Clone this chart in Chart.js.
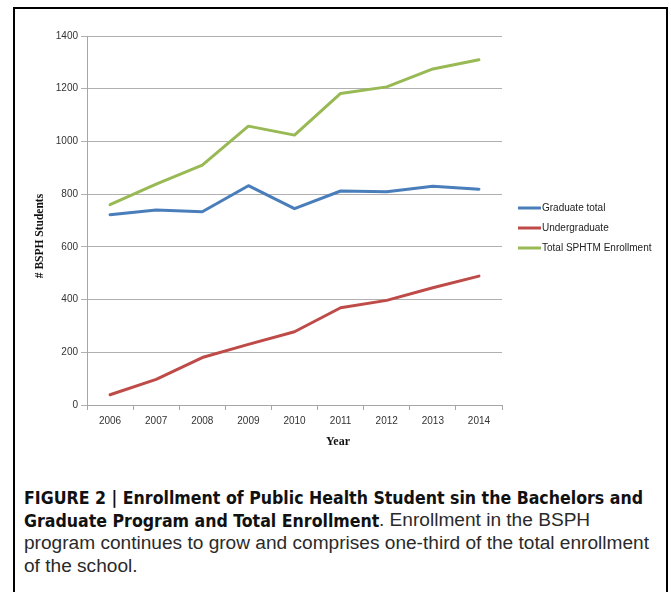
<!DOCTYPE html>
<html>
<head>
<meta charset="utf-8">
<script src="https://cdn.jsdelivr.net/npm/chart.js@4"></script>
<style>
  html,body{margin:0;padding:0;background:#fff;width:671px;height:592px;overflow:hidden;position:relative;}
  #frame{position:absolute;left:13px;top:7px;width:655px;height:620px;border:2px solid #000;box-sizing:border-box;}
  #c{position:absolute;left:0;top:0;}
  #cap{position:absolute;left:24px;top:486px;font-family:"Liberation Sans",Arial,sans-serif;font-size:18px;line-height:23px;color:#2a2a2a;}
  #cap .ln{display:block;white-space:nowrap;height:23px;}
  #cap .fit{display:inline-block;white-space:nowrap;overflow:visible;vertical-align:top;}
  #cap .in{display:inline-block;transform-origin:0 0;white-space:pre;}
  #cap .b{font-family:"DejaVu Sans Condensed","DejaVu Sans",sans-serif;font-weight:bold;color:#111;}
</style>
</head>
<body>
<div id="frame"></div>
<canvas id="c" width="671" height="460"></canvas>
<div id="cap">
  <span class="ln"><span class="fit b" id="refB"><span class="in">FIGURE 2 | Enrollment of Public Health Student sin the Bachelors and</span></span></span>
  <span class="ln"><span class="fit b"><span class="in">Graduate Program and Total Enrollment</span></span><span class="fit"><span class="in">. Enrollment in the BSPH</span></span></span>
  <span class="ln"><span class="fit" id="refR"><span class="in">program continues to grow and comprises one-third of the total enrollment</span></span></span>
  <span class="ln"><span class="fit"><span class="in">of the school.</span></span></span>
</div>
<script>
const years = ["2006","2007","2008","2009","2010","2011","2012","2013","2014"];
const graduateTotal = [722, 740, 733, 832, 745, 812, 809, 830, 819];
const undergraduate = [39, 97, 180, 230, 278, 369, 397, 445, 489];
const totalEnrollment = [760, 838, 910, 1058, 1024, 1182, 1207, 1275, 1310];
const seriesNames = ["Graduate total", "Undergraduate", "Total SPHTM Enrollment"];
const seriesColors = ["#4a7ebb", "#be4b48", "#98b954"];
const yTitle = "# BSPH Students";
const xTitle = "Year";

// caption: one horizontal scale for bold text, one for regular text
const wOf = el => el.querySelector('.in').getBoundingClientRect().width;
const sB = 619 / wOf(document.getElementById('refB'));
const sR = 625 / wOf(document.getElementById('refR'));
document.querySelectorAll('#cap .fit').forEach(el => {
  const s = el.classList.contains('b') ? sB : sR;
  const w = wOf(el);
  el.style.width = (w * s) + 'px';
  el.querySelector('.in').style.transform = 'scaleX(' + s + ')';
});

const extras = {
  id: 'extras',
  afterDraw(chart) {
    const ctx = chart.ctx;
    ctx.save();
    ctx.fillStyle = '#111';
    ctx.font = 'bold 12px "Liberation Serif", "Times New Roman", serif';
    ctx.textAlign = 'center';
    ctx.textBaseline = 'middle';
    ctx.fillText(xTitle, 338, 442);
    ctx.translate(40, 236);
    ctx.rotate(-Math.PI / 2);
    ctx.font = 'bold 11.5px "Liberation Serif", "Times New Roman", serif';
    ctx.fillText(yTitle, 0, 0);
    ctx.restore();
    ctx.save();
    ctx.font = '10px "Liberation Sans", Arial, sans-serif';
    ctx.textAlign = 'left';
    ctx.textBaseline = 'middle';
    chart.data.datasets.forEach((ds, i) => {
      const y = 208 + i * 20;
      ctx.strokeStyle = ds.borderColor;
      ctx.lineWidth = 3;
      ctx.beginPath();
      ctx.moveTo(518, y);
      ctx.lineTo(541, y);
      ctx.stroke();
      ctx.fillStyle = '#222';
      ctx.fillText(ds.label, 542, y);
    });
    ctx.restore();
  }
};

new Chart(document.getElementById('c'), {
  type: 'line',
  data: {
    labels: years,
    datasets: [
      {label: seriesNames[0], data: graduateTotal, borderColor: seriesColors[0]},
      {label: seriesNames[1], data: undergraduate, borderColor: seriesColors[1]},
      {label: seriesNames[2], data: totalEnrollment, borderColor: seriesColors[2]}
    ].map(d => Object.assign(d, {borderWidth: 3, pointRadius: 0, tension: 0, fill: false, borderCapStyle: 'round', borderJoinStyle: 'round'}))
  },
  options: {
    responsive: false,
    animation: false,
    devicePixelRatio: 1,
    layout: {padding: {left: 0, top: 36, right: 169, bottom: 0}},
    plugins: {legend: {display: false}, tooltip: {enabled: false}},
    scales: {
      x: {
        offset: true,
        grid: {display: true, drawOnChartArea: false, drawTicks: true, tickLength: 5, color: '#a6a6a6', offset: true},
        border: {display: true, color: '#a6a6a6'},
        ticks: {color: '#333', font: {family: '"Liberation Sans", Arial, sans-serif', size: 10}, padding: 5, maxRotation: 0},
        afterFit(s) { s.height = 55; }
      },
      y: {
        min: 0, max: 1400,
        grid: {color: '#b0b0b0', drawTicks: true, tickLength: 6},
        border: {display: true, color: '#a6a6a6'},
        ticks: {stepSize: 200, color: '#333', font: {family: '"Liberation Sans", Arial, sans-serif', size: 10}, padding: 3, callback: v => String(v)},
        afterFit(s) { s.width = 87; }
      }
    }
  },
  plugins: [extras]
});
</script>
</body>
</html>
